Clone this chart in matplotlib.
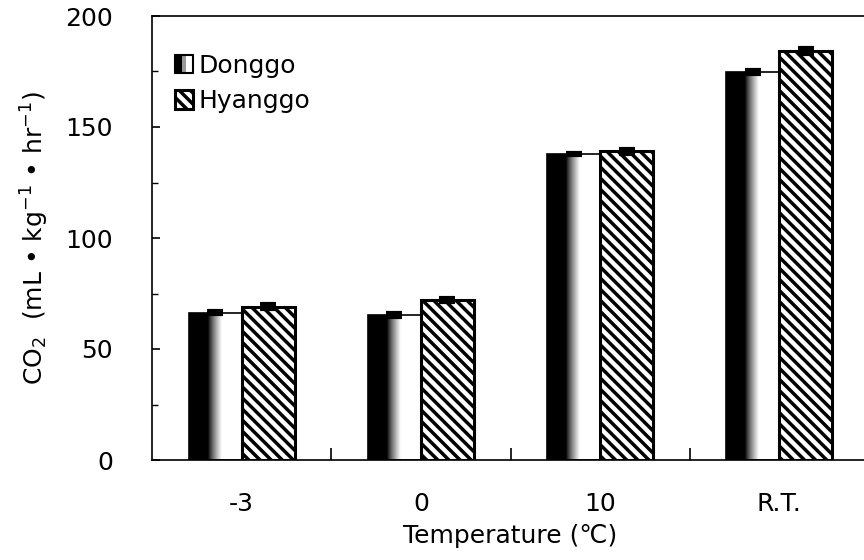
import matplotlib
matplotlib.use('Agg')
import matplotlib.pyplot as plt
import numpy as np
from matplotlib.patches import Rectangle
from matplotlib.legend_handler import HandlerBase

temps = ['-3', '0', '10', 'R.T.']
donggo = [66.3, 65.3, 137.8, 174.8]
donggo_err = [0.6, 0.8, 0.6, 0.8]
hyanggo = [69.0, 72.0, 139.0, 184.2]
hyanggo_err = [1.2, 1.0, 1.2, 1.2]

plt.rcParams['font.family'] = ['DejaVu Sans']
plt.rcParams['hatch.linewidth'] = 2.5
plt.rcParams['hatch.color'] = 'black'


class GradHandler(HandlerBase):
    # black-to-white square for the shaded series
    def create_artists(self, legend, orig_handle, xdescent, ydescent,
                       width, height, fontsize, trans):
        x0, y0 = -xdescent, -ydescent
        blk = Rectangle((x0, y0), width * 0.4, height, fc='black', ec='none', transform=trans)
        mid = Rectangle((x0 + width * 0.4, y0), width * 0.2, height, fc='0.6', ec='none', transform=trans)
        box = Rectangle((x0, y0), width, height, fc='none', ec='black', lw=1.5, transform=trans)
        return [blk, mid, box]


fig = plt.figure(figsize=(8.64, 5.6), dpi=100)
ax = fig.add_axes([152 / 864, 100 / 560, 717 / 864, 444 / 560])

x = np.arange(len(temps))
w = 0.295

bars_d = ax.bar(x - w / 2, donggo, w, color='none', edgecolor='black', linewidth=1.2, zorder=3)
bars_h = ax.bar(x + w / 2, hyanggo, w, color='white', edgecolor='black', linewidth=2.2,
                hatch='\\\\\\', zorder=3)

# horizontal shading inside the Donggo bars
prof = np.linspace(0, 1, 200)
shade = np.clip((prof - 0.36) / (0.62 - 0.36), 0, 1) ** 0.8
shade = shade[np.newaxis, :]
for b in bars_d:
    im = ax.imshow(shade, cmap='gray', vmin=0, vmax=1, aspect='auto',
                   interpolation='bilinear', zorder=2,
                   extent=(b.get_x(), b.get_x() + b.get_width(), 0, b.get_height()))
    im.set_clip_path(b)

ax.errorbar(x - w / 2, donggo, yerr=donggo_err, fmt='none', ecolor='black',
            elinewidth=1.5, capsize=6, capthick=3, zorder=4)
ax.errorbar(x + w / 2, hyanggo, yerr=hyanggo_err, fmt='none', ecolor='black',
            elinewidth=1.5, capsize=6, capthick=3, zorder=4)

ax.set_xlim(-0.5, len(temps) - 0.5)
ax.set_ylim(0, 200)

ax.spines['right'].set_visible(False)
for s in ['left', 'bottom', 'top']:
    ax.spines[s].set_linewidth(1.2)

ax.set_yticks(np.arange(0, 201, 50))
ax.set_yticks(np.arange(25, 200, 50), minor=True)
ax.tick_params(axis='y', which='major', direction='in', length=6, width=1.2,
               labelsize=18, pad=28)
ax.tick_params(axis='y', which='minor', direction='in', length=4, width=1)

# group boundaries get tick marks, group centres get the labels
ax.set_xticks(x[:-1] + 0.5)
ax.set_xticklabels([])
ax.set_xticks(x, minor=True)
ax.set_xticklabels(temps, minor=True)
ax.tick_params(axis='x', which='major', direction='in', length=9, width=1.2)
ax.tick_params(axis='x', which='minor', length=0, labelsize=18, pad=23)

ax.set_xlabel('Temperature (\u2103)', fontsize=18, labelpad=6)
ax.set_ylabel('CO$_2$  (mL \u2022 kg$^{-1}$ \u2022 hr$^{-1}$)', fontsize=18, labelpad=10)

ax.legend([bars_d[0], bars_h[0]], ['Donggo', 'Hyanggo'], loc='upper left',
          bbox_to_anchor=(0.0, 0.965), frameon=False, fontsize=18,
          handlelength=0.75, handleheight=0.75, handletextpad=0.2,
          labelspacing=0.45, borderaxespad=0.5,
          handler_map={bars_d[0]: GradHandler()})

fig.savefig('out.png', dpi=100)
